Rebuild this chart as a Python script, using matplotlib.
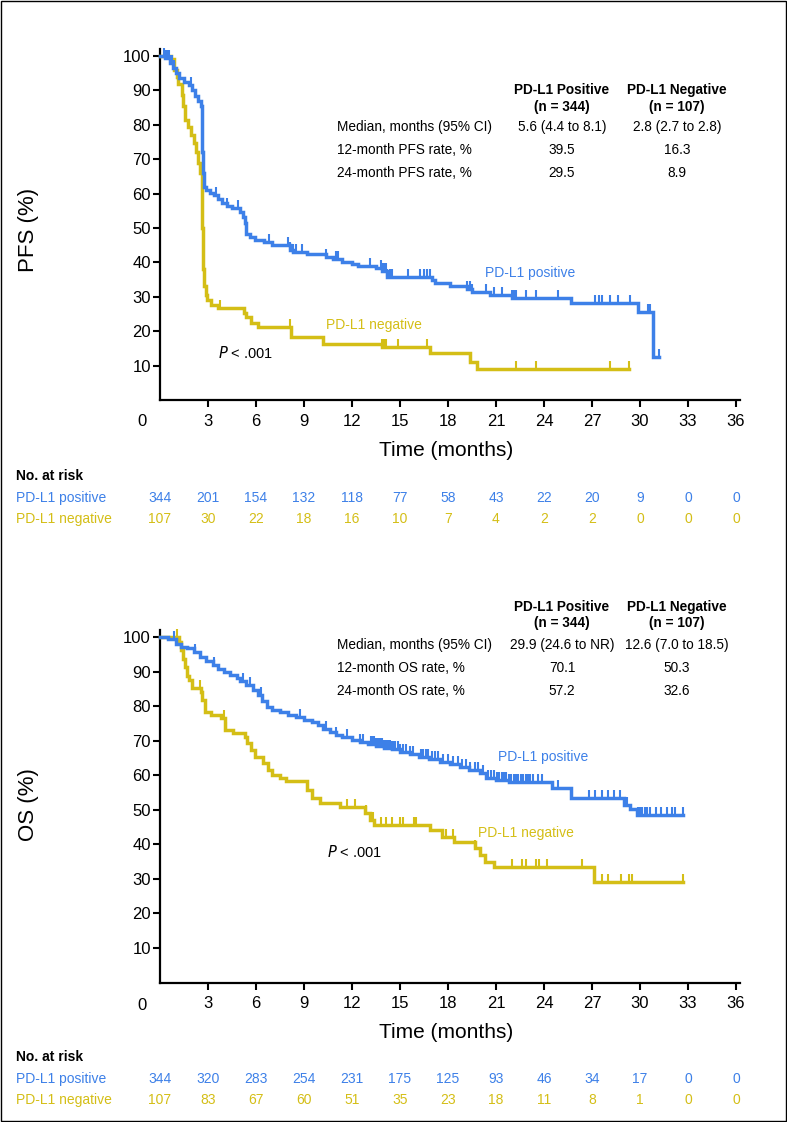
import numpy as np
import matplotlib
matplotlib.use("Agg")
import matplotlib.pyplot as plt
from matplotlib.path import Path
from matplotlib.patches import Rectangle

plt.rcParams['font.family'] = ['Liberation Sans', 'DejaVu Sans']

# ---------------- data ----------------
time_ticks = [0, 3, 6, 9, 12, 15, 18, 21, 24, 27, 30, 33, 36]
y_ticks = [10, 20, 30, 40, 50, 60, 70, 80, 90, 100]

# PFS, PD-L1 positive (step breakpoints)
pfs_pos_t = [0, 0.3, 0.6, 0.8, 1.0, 1.2, 1.5, 1.8, 2.0, 2.2, 2.4, 2.55, 2.6, 2.65, 2.7, 2.75, 2.85,
             3.1, 3.4, 3.6, 3.85, 4.2, 4.5, 5.0, 5.2, 5.3, 5.4, 5.6, 5.95, 6.5, 7.0, 8.1, 8.3, 9.2,
             10.4, 10.8, 11.4, 12.0, 12.4, 13.5, 13.9, 14.2, 17.0, 17.2, 18.1, 19.2, 19.5, 20.6,
             22.0, 25.7, 29.9, 30.8, 31.2]
pfs_pos_s = [100, 99.5, 98, 96.5, 95, 93.5, 92.5, 91.5, 90, 88.5, 87, 85.5, 80, 72, 66, 62, 61,
             60.3, 59.6, 58.5, 57.2, 56.3, 55.7, 54.7, 53.3, 51.5, 48.4, 47.5, 46.5, 45.8, 45.2, 43.6, 42.9, 42.4,
             41.7, 41.0, 40.2, 39.5, 39.0, 38.5, 37.5, 35.9, 34.8, 33.9, 33.0, 32.3, 31.5, 30.5,
             29.6, 28.1, 25.7, 12.6, 12.6]
pfs_pos_cens = [0.25, 0.35, 0.45, 0.55, 0.65, 0.75, 0.85, 1.95, 3.5, 4.2, 4.9, 6.8, 8.0, 8.15, 8.3,
                8.5, 8.9, 10.4, 11.0, 11.1, 13.1, 13.8, 13.9, 14.0, 14.1, 14.2, 14.35, 14.5, 15.5,
                16.25, 16.5, 16.7, 16.9, 19.2, 19.35, 19.5, 20.4, 20.9, 21.4, 22.0, 22.1, 22.25,
                22.9, 23.5, 24.9, 27.2, 27.45, 27.65, 28.1, 28.6, 29.4, 30.5, 30.65, 31.2]

# PFS, PD-L1 negative
pfs_neg_t = [0, 0.7, 0.9, 1.05, 1.15, 1.35, 1.45, 1.56, 1.77, 1.95, 2.1, 2.25, 2.4, 2.5, 2.6, 2.65,
             2.7, 2.75, 2.85, 2.95, 3.2, 3.6, 5.25, 5.4, 5.7, 6.15, 8.2, 10.2, 13.9, 16.9, 19.4,
             19.8, 29.3]
pfs_neg_s = [100, 99, 96, 94, 92, 88.6, 85.5, 81.4, 79.4, 77, 74.6, 72, 68.8, 66, 62, 50,
             38, 33, 30.5, 29, 27.6, 26.6, 25.2, 24.2, 22.3, 21.3, 18.4, 16.2, 15.3, 13.6, 11.1,
             8.9, 8.9]
pfs_neg_cens = [3.75, 8.1, 13.9, 14.0, 14.15, 14.9, 16.7, 19.4, 22.25, 23.5, 28.1, 29.3]

# OS, PD-L1 positive
os_pos_t = [0, 0.5, 1.0, 1.3, 1.7, 2.1, 2.5, 2.9, 3.3, 3.6, 4.0, 4.4, 4.8, 5.0, 5.4, 5.8, 6.1, 6.4,
            6.7, 7.0, 7.5, 8.0, 8.5, 9.0, 9.5, 9.9, 10.2, 10.6, 11.0, 11.4, 12.0, 12.5, 13.0, 13.5,
            14.0, 14.5, 15.0, 15.6, 16.2, 16.8, 17.5, 18.1, 18.75, 19.3, 20.0, 20.4, 21.0, 21.8,
            24.5, 25.7, 29.0, 29.4, 29.8, 32.7]
os_pos_s = [100, 99.3, 98, 97.2, 96.7, 95.7, 94.3, 93.2, 91.9, 90.6, 89.8, 88.9, 88.0, 87.3, 86.1,
            84.7, 83.2, 81.5, 79.8, 79.0, 78.2, 77.5, 76.8, 76.0, 75.3, 74.5, 73.3, 72.6, 71.6, 71.0,
            70.1, 69.7, 69.1, 68.5, 68.0, 67.5, 66.8, 66.2, 65.4, 64.6, 63.9, 63.2, 62.5, 61.6, 60.6,
            59.1, 58.6, 58.1, 56.2, 53.3, 51.4, 50.3, 48.5, 48.5]
os_pos_cens = [0.9, 2.2, 3.4, 5.2, 5.6, 6.3, 8.75, 10.4, 11.0, 11.7, 12.5, 12.7, 13.2, 13.3, 13.4,
               13.5, 13.6, 13.7, 13.8, 13.9, 14.0, 14.1, 14.2, 14.3, 14.4, 14.5, 14.6, 14.7, 14.85,
               15.0, 15.2, 15.4, 15.6, 15.8, 16.3, 16.45, 16.6, 16.75, 17.0, 17.2, 17.4, 17.7,
               18.0, 18.3, 18.6, 18.9, 19.1, 19.4, 19.7, 19.9, 20.2, 20.5, 20.7, 20.9, 21.05,
               21.2, 21.35, 21.5, 21.65, 21.8, 21.95, 22.1, 22.25, 22.4, 22.55, 22.7, 22.85, 23.0,
               23.15, 23.3, 23.6, 23.9, 24.9, 26.8, 27.2, 27.6, 28.0, 28.4, 28.75, 29.05, 29.2,
               29.85, 29.95, 30.05, 30.15, 30.3, 30.45, 30.6, 31.0, 31.3, 31.7, 32.0, 32.2, 32.7]

# OS, PD-L1 negative
os_neg_t = [0, 1.2, 1.3, 1.45, 1.56, 1.7, 1.8, 2.0, 2.55, 2.65, 2.8, 3.2, 3.8, 4.05, 4.55, 5.3, 5.45,
            5.7, 5.95, 6.45, 6.75, 7.0, 7.5, 7.9, 9.2, 9.5, 10.0, 11.25, 12.8, 13.1, 13.4, 16.9,
            17.6, 18.4, 19.7, 20.0, 20.3, 20.9, 27.1, 32.7]
os_neg_s = [100, 98.5, 96.2, 93.5, 91.4, 88.8, 87.6, 85.2, 84.0, 81.8, 78.4, 77.4, 76.5, 73.1, 72.1,
            71.0, 69.2, 67.3, 65.4, 63.4, 61.5, 60.1, 59.1, 58.3, 55.7, 53.3, 51.9, 50.9, 49.0, 47.0,
            45.6, 44.2, 42.2, 40.8, 38.9, 36.9, 35.0, 33.5, 29.2, 29.2]
os_neg_cens = [1.05, 2.5, 4.0, 4.1, 11.7, 12.2, 12.9, 13.3, 13.8, 14.1, 14.5, 15.0, 15.2, 15.9, 16.0,
               17.9, 18.3, 19.7, 20.0, 22.0, 22.6, 22.9, 23.5, 23.7, 24.2, 26.4, 27.6, 28.0, 28.8,
               29.3, 29.5, 32.7]

# at-risk numbers
pfs_risk_pos = [344, 201, 154, 132, 118, 77, 58, 43, 22, 20, 9, 0, 0]
pfs_risk_neg = [107, 30, 22, 18, 16, 10, 7, 4, 2, 2, 0, 0, 0]
os_risk_pos = [344, 320, 283, 254, 231, 175, 125, 93, 46, 34, 17, 0, 0]
os_risk_neg = [107, 83, 67, 60, 51, 35, 23, 18, 11, 8, 1, 0, 0]

# summary tables
col_headers = [("PD-L1 Positive", "(n = 344)"), ("PD-L1 Negative", "(n = 107)")]
pfs_rows = ["Median, months (95% CI)", "12-month PFS rate, %", "24-month PFS rate, %"]
pfs_pos_vals = ["5.6 (4.4 to 8.1)", "39.5", "29.5"]
pfs_neg_vals = ["2.8 (2.7 to 2.8)", "16.3", "8.9"]
os_rows = ["Median, months (95% CI)", "12-month OS rate, %", "24-month OS rate, %"]
os_pos_vals = ["29.9 (24.6 to NR)", "70.1", "57.2"]
os_neg_vals = ["12.6 (7.0 to 18.5)", "50.3", "32.6"]

# ---------------- style ----------------
BLUE = '#3D80E8'
YELLOW = '#D4BE16'
W, H = 787, 1122

fig = plt.figure(figsize=(W / 100, H / 100), dpi=100)


def px(x, y):
    return x / W, 1 - y / H


def ftext(x, y, s, **kw):
    fx, fy = px(x, y)
    return fig.text(fx, fy, s, **kw)


cens_marker = Path([(0, 0), (0, 1)], [Path.MOVETO, Path.LINETO])


def draw_km(ax, t, s, cens, color):
    t = np.asarray(t, float)
    s = np.asarray(s, float)
    ax.step(t, s, where='post', color=color, lw=2.5, solid_joinstyle='miter', clip_on=False, zorder=3)
    c = np.asarray(cens, float)
    idx = np.searchsorted(t, c, side='right') - 1
    cy = s[np.clip(idx, 0, len(s) - 1)]
    ax.plot(c, cy, linestyle='none', marker=cens_marker, markersize=11, markeredgewidth=1.5,
            color=color, clip_on=False, zorder=3)


def setup_axes(ax):
    ax.set_xlim(0, 36.25)
    ax.set_ylim(0, 102)
    for sp in ['top', 'right']:
        ax.spines[sp].set_visible(False)
    for sp in ['left', 'bottom']:
        ax.spines[sp].set_linewidth(1.6)
    ax.set_xticks(time_ticks[1:])
    ax.set_xticklabels([str(v) for v in time_ticks[1:]])
    ax.set_yticks(y_ticks)
    ax.set_yticklabels([str(v) for v in y_ticks])
    ax.tick_params(axis='both', direction='out', length=5, width=1.5, labelsize=12)
    ax.tick_params(axis='x', pad=5)
    ax.tick_params(axis='y', pad=1.5)


def risk_table(y_head, y1, y2, pos, neg):
    ftext(16, y_head, "No. at risk", fontsize=10, fontweight='bold', va='center', ha='left')
    ftext(16, y1, "PD-L1 positive", fontsize=10, color=BLUE, va='center', ha='left')
    ftext(16, y2, "PD-L1 negative", fontsize=10, color=YELLOW, va='center', ha='left')
    for tt, a, b in zip(time_ticks, pos, neg):
        x = 160 + 16 * tt
        ftext(x, y1, str(a), fontsize=10, color=BLUE, va='center', ha='center')
        ftext(x, y2, str(b), fontsize=10, color=YELLOW, va='center', ha='center')


def stats_table(yh1, yh2, yrows, rows, pos_vals, neg_vals):
    for (h1, h2), cx in zip(col_headers, [562, 677]):
        ftext(cx, yh1, h1, fontsize=9.8, fontweight='bold', va='center', ha='center')
        ftext(cx, yh2, h2, fontsize=9.8, fontweight='bold', va='center', ha='center')
    for yr, lab, a, b in zip(yrows, rows, pos_vals, neg_vals):
        ftext(337, yr, lab, fontsize=9.8, va='center', ha='left')
        ftext(562, yr, a, fontsize=9.8, va='center', ha='center')
        ftext(677, yr, b, fontsize=9.8, va='center', ha='center')


# ---------------- top: PFS ----------------
y0_top = 400.0
ax1 = fig.add_axes([160 / W, 1 - y0_top / H, 580 / W, 102 * 3.44 / H])
setup_axes(ax1)
draw_km(ax1, pfs_neg_t, pfs_neg_s, pfs_neg_cens, YELLOW)
draw_km(ax1, pfs_pos_t, pfs_pos_s, pfs_pos_cens, BLUE)
ftext(142, 422, "0", fontsize=12, va='center', ha='center')
ftext(29, 230, "PFS (%)", fontsize=16, rotation=90, va='center', ha='center')
ftext(446, 450, "Time (months)", fontsize=15, va='center', ha='center')
ftext(530, 273, "PD-L1 positive", fontsize=10, color=BLUE, va='center', ha='center')
ftext(374, 325, "PD-L1 negative", fontsize=10, color=YELLOW, va='center', ha='center')
ftext(246, 353, r"$\it{P}$ < .001", fontsize=10.5, va='center', ha='center')
stats_table(90, 107, [127, 150, 173], pfs_rows, pfs_pos_vals, pfs_neg_vals)
risk_table(476, 498, 519, pfs_risk_pos, pfs_risk_neg)

# ---------------- bottom: OS ----------------
y0_bot = 982.6
ax2 = fig.add_axes([160 / W, 1 - y0_bot / H, 580 / W, 102 * 3.456 / H])
setup_axes(ax2)
draw_km(ax2, os_neg_t, os_neg_s, os_neg_cens, YELLOW)
draw_km(ax2, os_pos_t, os_pos_s, os_pos_cens, BLUE)
ftext(142, 1005, "0", fontsize=12, va='center', ha='center')
ftext(29, 805, "OS (%)", fontsize=16, rotation=90, va='center', ha='center')
ftext(446, 1032, "Time (months)", fontsize=15, va='center', ha='center')
ftext(543, 757, "PD-L1 positive", fontsize=10, color=BLUE, va='center', ha='center')
ftext(526, 833, "PD-L1 negative", fontsize=10, color=YELLOW, va='center', ha='center')
ftext(355, 852, r"$\it{P}$ < .001", fontsize=10.5, va='center', ha='center')
stats_table(607, 623, [645, 668, 691], os_rows, os_pos_vals, os_neg_vals)
risk_table(1057, 1079, 1100, os_risk_pos, os_risk_neg)

# outer frame
fig.add_artist(Rectangle((0.6 / W, 0.6 / H), 1 - 1.8 / W, 1 - 1.8 / H, transform=fig.transFigure,
                         fill=False, edgecolor='black', lw=1.0))

fig.savefig("out.png", dpi=100)
